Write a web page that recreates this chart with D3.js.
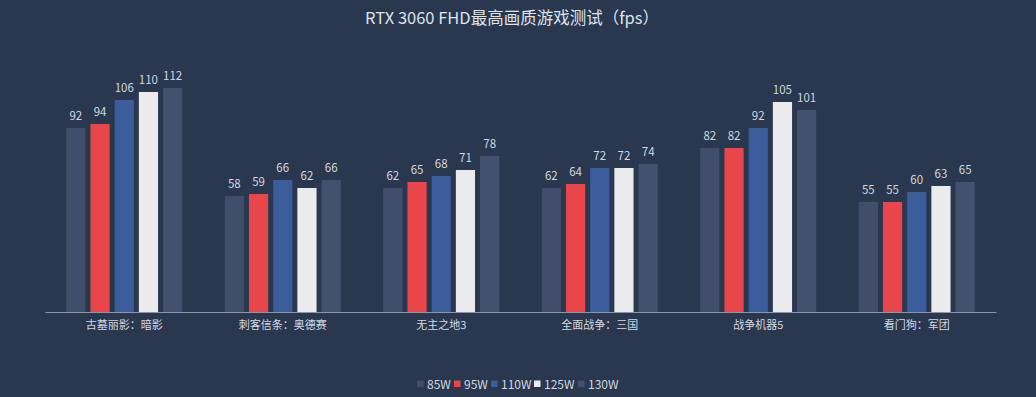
<!DOCTYPE html>
<html>
<head>
<meta charset="utf-8">
<script src="https://cdn.jsdelivr.net/npm/d3@7"></script>
<style>
  html, body { margin: 0; padding: 0; background: #29374f; }
  svg { display: block; }
  text { font-family: "Noto Sans CJK SC", "Noto Sans", sans-serif; }
</style>
</head>
<body>
<div id="chart"></div>
<script>
const games = ["古墓丽影：暗影", "刺客信条：奥德赛", "无主之地3", "全面战争：三国", "战争机器5", "看门狗：军团"];
const powers = ["85W", "95W", "110W", "125W", "130W"];
const fps85 = [92, 58, 62, 62, 82, 55];
const fps95 = [94, 59, 65, 64, 82, 55];
const fps110 = [106, 66, 68, 72, 92, 60];
const fps125 = [110, 62, 71, 72, 105, 63];
const fps130 = [112, 66, 78, 74, 101, 65];
const colors = ["#414e6b", "#e8464a", "#3b5d9b", "#ebebed", "#43516e"];

const series = [fps85, fps95, fps110, fps125, fps130];
const W = 1036, H = 397;
const left = 45, right = 996, base = 312;
const groupW = 116;

const svg = d3.select("#chart").append("svg")
  .attr("width", W).attr("height", H);

svg.append("rect").attr("width", W).attr("height", H).attr("fill", "#29374f");

const x0 = d3.scaleBand().domain(games).range([left, right]);
const x1 = d3.scaleBand().domain(powers).range([0, groupW]).paddingInner(0.207);
const y = d3.scaleLinear().domain([0, 140]).range([base, base - 280]);

const groups = svg.append("g").selectAll("g")
  .data(games)
  .join("g")
  .attr("transform", d => "translate(" + (x0(d) + x0.bandwidth() / 2 - groupW / 2) + ",0)");

groups.selectAll("rect")
  .data((g, gi) => powers.map((p, pi) => ({ p: p, v: series[pi][gi], c: colors[pi] })))
  .join("rect")
  .attr("x", d => x1(d.p))
  .attr("y", d => y(d.v))
  .attr("width", x1.bandwidth())
  .attr("height", d => base - y(d.v))
  .attr("fill", d => d.c);

groups.selectAll("text")
  .data((g, gi) => powers.map((p, pi) => ({ p: p, v: series[pi][gi] })))
  .join("text")
  .attr("x", d => x1(d.p) + x1.bandwidth() / 2)
  .attr("y", d => y(d.v) - 8)
  .attr("text-anchor", "middle")
  .attr("font-size", 11.5)
  .attr("fill", "#d3d7de")
  .text(d => d.v);

// x axis
const xAxis = d3.axisBottom(x0).tickSize(0).tickPadding(9);
const ax = svg.append("g")
  .attr("transform", "translate(0," + base + ")")
  .call(xAxis);
ax.select(".domain").attr("stroke", "#8c96aa");
ax.selectAll("text").attr("font-size", 11).attr("fill", "#d6d9e0")
  .style("font-family", "'Noto Sans CJK SC', sans-serif");

// title
svg.append("text")
  .attr("x", 512).attr("y", 24)
  .attr("text-anchor", "middle")
  .attr("font-size", 16.5)
  .attr("fill", "#dfe3ea")
  .text("RTX 3060 FHD最高画质游戏测试（fps）");

// legend
const legendX = [417, 454, 491, 534, 578];
const lg = svg.append("g").selectAll("g")
  .data(powers)
  .join("g")
  .attr("transform", (d, i) => "translate(" + legendX[i] + ",384)");
lg.append("rect")
  .attr("x", 0).attr("y", -3.5)
  .attr("width", 6.5).attr("height", 6.5)
  .attr("fill", (d, i) => colors[i]);
lg.append("text")
  .attr("x", 10).attr("y", 4.5)
  .attr("font-size", 12)
  .attr("fill", "#d3d7de")
  .text(d => d);
</script>
</body>
</html>
